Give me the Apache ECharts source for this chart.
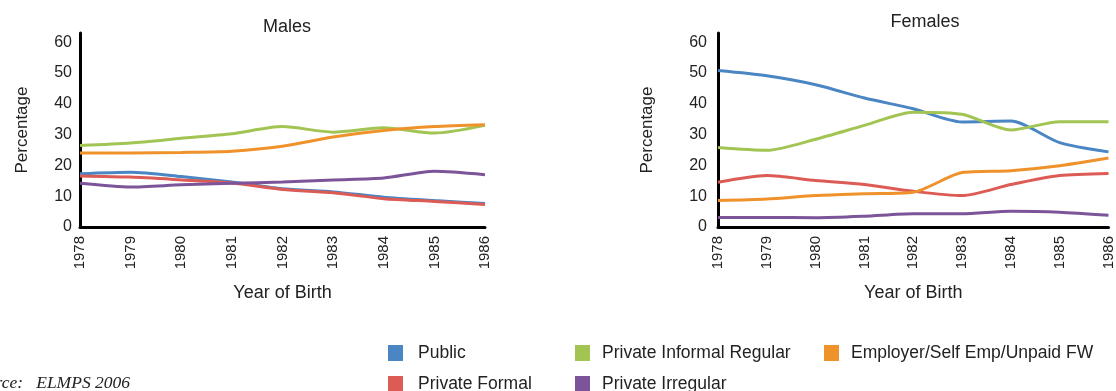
<!DOCTYPE html>
<html><head><meta charset="utf-8">
<script src="https://cdn.jsdelivr.net/npm/echarts@6/dist/echarts.min.js"></script>
<style>html,body{margin:0;padding:0;background:#fff}#c{width:1116px;height:391px}</style>
</head><body><div id="c"></div>
<script>
const years = ['1978','1979','1980','1981','1982','1983','1984','1985','1986'];
const names = ['Public','Private Formal','Private Informal Regular','Private Irregular','Employer/Self Emp/Unpaid FW'];
const colors = ['#4a86c4','#dd5b55','#a2c453','#7b549a','#f0922b'];

// Males
const malePublic   = [17.3, 17.8, 16.4, 14.6, 12.4, 11.4, 9.7, 8.6, 7.6];
const maleFormal   = [16.6, 16.2, 15.3, 14.3, 12.2, 11.1, 9.2, 8.3, 7.3];
const maleInformal = [26.5, 27.3, 28.8, 30.3, 32.6, 30.8, 32.2, 30.5, 33.0];
const maleIrregular= [14.2, 13.0, 13.7, 14.2, 14.6, 15.3, 15.9, 18.1, 17.0];
const maleEmployer = [24.0, 24.0, 24.2, 24.6, 26.2, 29.2, 31.3, 32.6, 33.2];

// Females
const femPublic    = [50.8, 49.1, 46.2, 41.9, 38.4, 34.1, 34.4, 27.4, 24.4];
const femFormal    = [14.5, 16.7, 15.1, 13.8, 11.6, 10.2, 13.8, 16.7, 17.4];
const femInformal  = [25.8, 24.9, 28.5, 33.0, 37.3, 36.6, 31.5, 34.2, 34.2];
const femIrregular = [3.1, 3.1, 3.0, 3.5, 4.3, 4.3, 5.1, 4.8, 3.8];
const femEmployer  = [8.6, 9.1, 10.2, 10.8, 11.3, 17.7, 18.3, 19.9, 22.4];

const yTicksMax = 60;

const maleData = [malePublic, maleFormal, maleInformal, maleIrregular, maleEmployer];
const femData  = [femPublic, femFormal, femInformal, femIrregular, femEmployer];

const FONT = '"Liberation Sans", Arial, sans-serif';
const txt = '#222';

function xAxis(gi){
  return {
    type:'category', gridIndex:gi, data:years, boundaryGap:false,
    axisLine:{lineStyle:{color:'#000', width:3}},
    axisTick:{show:false},
    axisLabel:{rotate:90, margin:9, color:txt, fontSize:15, fontFamily:FONT},
    name:'Year of Birth', nameLocation:'middle', nameGap:57,
    nameTextStyle:{color:txt, fontSize:18, fontFamily:FONT}
  };
}
function yAxis(gi, gap){
  return {
    type:'value', gridIndex:gi, min:0, max:63, interval:10,
    axisLine:{show:true, lineStyle:{color:'#000', width:3}},
    axisTick:{show:false},
    splitLine:{show:false},
    axisLabel:{color:txt, fontSize:16, fontFamily:FONT, margin:gap,
      formatter:v => (v % 10 === 0 && v <= yTicksMax) ? String(v) : ''},
    name:'Percentage', nameLocation:'middle', nameGap: gi===0 ? 49 : 62, nameRotate:90,
    nameTextStyle:{color:txt, fontSize:17, fontFamily:FONT}
  };
}

const series = [];
[maleData, femData].forEach((set, gi) => {
  set.forEach((arr, i) => {
    series.push({
      name:names[i], type:'line', xAxisIndex:gi, yAxisIndex:gi,
      data:arr, smooth:0.25, symbol:'none',
      lineStyle:{width:3, color:colors[i]}, itemStyle:{color:colors[i]}
    });
  });
});

const legendPos = [
  {name:'Public', left:388, top:344, pad:10},
  {name:'Private Informal Regular', left:575, top:344, pad:7},
  {name:'Employer/Self Emp/Unpaid FW', left:824, top:344, pad:7},
  {name:'Private Formal', left:388, top:375, pad:10},
  {name:'Private Irregular', left:575, top:375, pad:7}
];

const chart = echarts.init(document.getElementById('c'));
chart.setOption({
  backgroundColor:'#fff',
  animation:false,
  title:[
    {text:'Males', left:282, top:13, textAlign:'center',
      textStyle:{color:txt, fontSize:18, fontWeight:'normal', fontFamily:FONT}},
    {text:'Females', left:920, top:8, textAlign:'center',
      textStyle:{color:txt, fontSize:18, fontWeight:'normal', fontFamily:FONT}}
  ],
  grid:[
    {left:80, right:631, top:33, bottom:164},
    {left:718, right:0, top:33, bottom:164}
  ],
  xAxis:[xAxis(0), xAxis(1)],
  yAxis:[yAxis(0, 8), yAxis(1, 11)],
  legend: legendPos.map(p => ({
    data:[p.name], left:p.left, top:p.top, padding:0,
    icon:'rect', itemWidth:15, itemHeight:16,
    textStyle:{color:txt, fontSize:17.5, fontFamily:FONT, padding:[0,0,0,p.pad]}
  })),
  graphic:[
    {type:'text', right:986, top:374,
      style:{text:'Source:   ELMPS 2006', font:'italic 17.5px "Liberation Serif", "DejaVu Serif", serif', fill:'#222'}}
  ],
  series:series
});
</script>
</body></html>
